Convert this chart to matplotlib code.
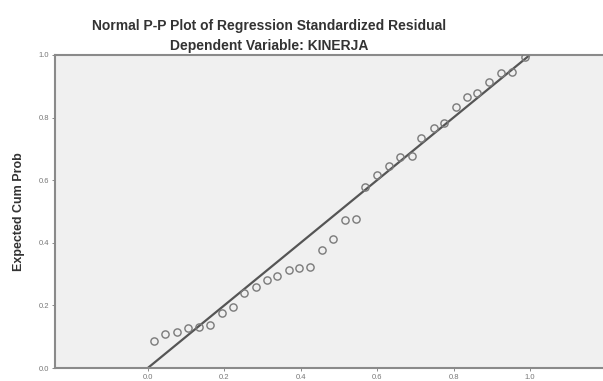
import matplotlib.pyplot as plt

observed = [0.016, 0.045, 0.076, 0.105, 0.134, 0.162, 0.194, 0.223, 0.251, 0.283,
            0.312, 0.338, 0.369, 0.395, 0.424, 0.455, 0.484, 0.516, 0.545, 0.568,
            0.599, 0.631, 0.660, 0.691, 0.715, 0.749, 0.775, 0.806, 0.835, 0.861,
            0.893, 0.924, 0.953, 0.987]
expected = [0.086, 0.109, 0.115, 0.128, 0.131, 0.137, 0.176, 0.195, 0.240, 0.259,
            0.281, 0.294, 0.313, 0.319, 0.323, 0.377, 0.412, 0.473, 0.476, 0.578,
            0.617, 0.645, 0.674, 0.677, 0.735, 0.767, 0.783, 0.834, 0.866, 0.879,
            0.914, 0.942, 0.946, 0.994]
ticks = [0.0, 0.2, 0.4, 0.6, 0.8, 1.0]
tick_labels = ["0.0", "0.2", "0.4", "0.6", "0.8", "1.0"]

plt.rcParams['font.family'] = ['Liberation Sans', 'DejaVu Sans']

fig = plt.figure(figsize=(6.03, 3.81), dpi=100)
ax = fig.add_axes([0.091, 0.034, 0.909, 0.822])
ax.set_facecolor("#f0f0f0")

# reference line
ax.plot([0, 1], [0, 1], color="#555555", lw=1.6, zorder=2)
ax.plot(observed, expected, linestyle="none", marker="o", markersize=5.2,
        markerfacecolor="none", markeredgecolor="#7a7a7a", markeredgewidth=1.0, zorder=3)

ax.set_xlim(-0.243, 1.191)
ax.set_ylim(0, 1.0)
ax.set_xticks(ticks)
ax.set_xticklabels(tick_labels)
ax.set_yticks(ticks)
ax.set_yticklabels(tick_labels)
ax.tick_params(labelsize=5.5, colors="#777777", length=2.5, width=0.6, pad=1.5)

ax.spines["right"].set_visible(False)
for s in ["left", "bottom", "top"]:
    ax.spines[s].set_color("#8a8a8a")
    ax.spines[s].set_linewidth(1.5)

ax.set_ylabel("Expected Cum Prob", fontsize=9, fontweight="bold", color="#333333", labelpad=10)

fig.text(0.446, 0.933, "Normal P-P Plot of Regression Standardized Residual",
         ha="center", va="center", fontsize=10, fontweight="bold", color="#333333")
fig.text(0.446, 0.880, "Dependent Variable: KINERJA",
         ha="center", va="center", fontsize=10, fontweight="bold", color="#333333")

fig.savefig("out.png", dpi=100)
